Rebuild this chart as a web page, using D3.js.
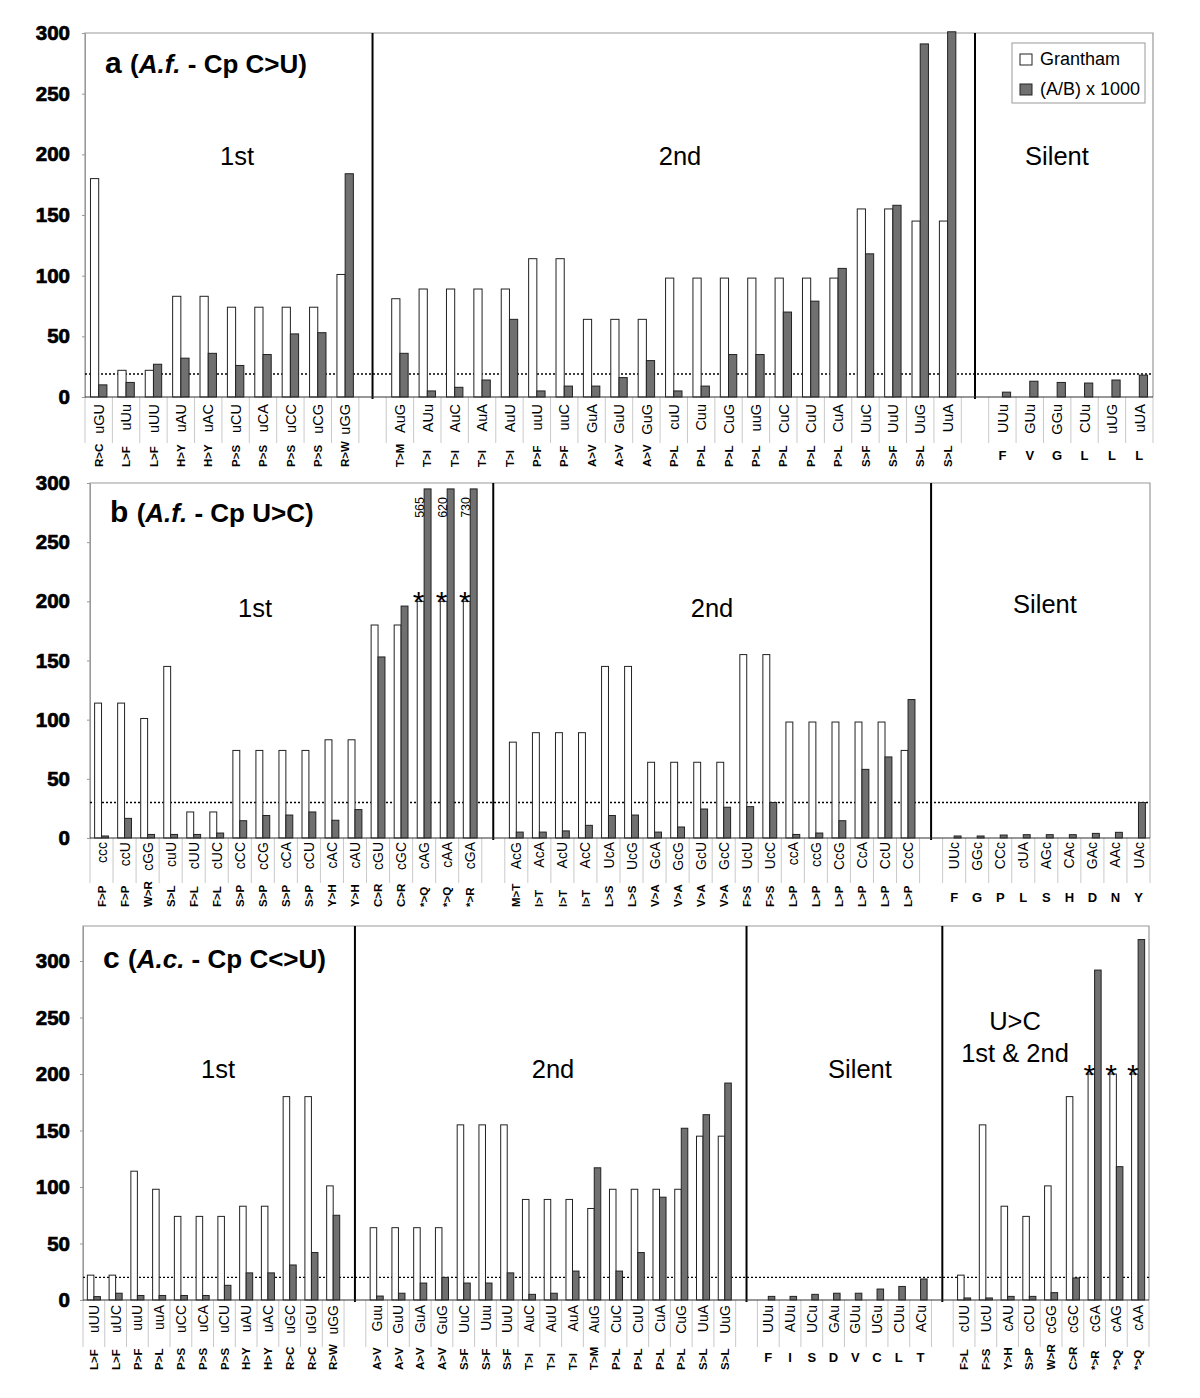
<!DOCTYPE html>
<html><head><meta charset="utf-8">
<script src="https://cdn.jsdelivr.net/npm/d3@7"></script>
<style>body{margin:0;background:#fff}text{font-family:"Liberation Sans",Arial,sans-serif}</style>
</head><body><svg id="c" width="1200" height="1398"></svg>
<script>
// ---------- Panel a data ----------
const aChange = ["R>C","L>F","L>F","H>Y","H>Y","P>S","P>S","P>S","P>S","R>W",null,
  "T>M","T>I","T>I","T>I","T>I","P>F","P>F","A>V","A>V","A>V","P>L","P>L","P>L","P>L","P>L","P>L","P>L","S>F","S>F","S>L","S>L",null,
  "F","V","G","L","L","L"];
const aCodon = ["uGU","uUu","uUU","uAU","uAC","uCU","uCA","uCC","uCG","uGG",null,
  "AuG","AUu","AuC","AuA","AuU","uuU","uuC","GuA","GuU","GuG","cuU","Cuu","CuG","uuG","CuC","CuU","CuA","UuC","UuU","UuG","UuA",null,
  "UUu","GUu","GGu","CUu","uUG","uUA"];
const aGrantham = [180,22,22,83,83,74,74,74,74,101,null,
  81,89,89,89,89,114,114,64,64,64,98,98,98,98,98,98,98,155,155,145,145,null,
  0,0,0,0,0,0];
const aRatio = [10,12,27,32,36,26,35,52,53,184,null,
  36,5,8,14,64,5,9,9,16,30,5,9,35,35,70,79,106,118,158,291,301,null,
  4,13,12,11.5,14,18];
const aSections = ["1st","2nd","Silent"];

// ---------- Panel b data ----------
const bChange = ["F>P","F>P","W>R","S>L","F>L","F>L","S>P","S>P","S>P","S>P","Y>H","Y>H","C>R","C>R","*>Q","*>Q","*>R",null,
  "M>T","I>T","I>T","I>T","L>S","L>S","V>A","V>A","V>A","V>A","F>S","F>S","L>P","L>P","L>P","L>P","L>P","L>P",null,
  "F","G","P","L","S","H","D","N","Y"];
const bCodon = ["ccc","ccU","cGG","cuU","cUU","cUC","cCC","cCG","cCA","cCU","cAC","cAU","cGU","cGC","cAG","cAA","cGA",null,
  "AcG","AcA","AcU","AcC","UcA","UcG","GcA","GcG","GcU","GcC","UcU","UcC","ccA","ccG","CcG","CcA","CcU","CcC",null,
  "UUc","GGc","CCc","cUA","AGc","CAc","GAc","AAc","UAc"];
const bGrantham = [114,114,101,145,22,22,74,74,74,74,83,83,180,180,200,200,200,null,
  81,89,89,89,145,145,64,64,64,64,155,155,98,98,98,98,98,74,null,
  0,0,0,0,0,0,0,0,0];
const bRatio = [1.7,16.6,3,3,3,4.2,14.6,19,19.4,22,15,24,153,196,565,620,730,null,
  5,5,6,10.7,19,19.4,5,9.3,24.5,26,26.5,30,3,4.2,14.6,58,68.5,117,null,
  1.7,1.7,2.5,2.8,2.8,2.8,3.9,4.8,30];
const bSections = ["1st","2nd","Silent"];

// ---------- Panel c data ----------
const cChange = ["L>F","L>F","P>F","P>L","P>S","P>S","P>S","H>Y","H>Y","R>C","R>C","R>W",null,
  "A>V","A>V","A>V","A>V","S>F","S>F","S>F","T>I","T>I","T>I","T>M","P>L","P>L","P>L","P>L","S>L","S>L",null,
  "F","I","S","D","V","C","L","T",null,
  "F>L","F>S","Y>H","S>P","W>R","C>R","*>R","*>Q","*>Q"];
const cCodon = ["uUU","uUC","uuU","uuA","uCC","uCA","uCU","uAU","uAC","uGC","uGU","uGG",null,
  "Guu","GuU","GuA","GuG","UuC","Uuu","UuU","AuC","AuU","AuA","AuG","CuC","CuU","CuA","CuG","UuA","UuG",null,
  "UUu","AUu","UCu","GAu","GUu","UGu","CUu","ACu",null,
  "cUU","UcU","cAU","cCU","cGG","cGC","cGA","cAG","cAA"];
const cGrantham = [22,22,114,98,74,74,74,83,83,180,180,101,null,
  64,64,64,64,155,155,155,89,89,89,81,98,98,98,98,145,145,null,
  0,0,0,0,0,0,0,0,null,
  22,155,83,74,101,180,200,200,200];
const cRatio = [3,6,4,4,4,4,13,24,24,31,42,75,null,
  3.5,6,15,20,15,15,24,5,6,25.6,117,25.6,42,91,152,164,192,null,
  3.2,3.2,5,6,6,9.7,12,18.6,null,
  1.8,1.8,3.2,3.2,6.5,19.5,292,118,319];
const cSections = ["1st","2nd","Silent","U>C|1st & 2nd"];

const yTicks = [0,50,100,150,200,250,300];
const thresholds = {a:19, b:30, c:20};

// ---------- layout ----------
const panels = [
  {change:aChange, codon:aCodon, gran:aGrantham, ratio:aRatio, sections:aSections,
   left:85, right:1153, top:33, base:397, ymax:300, cap:null, thr:thresholds.a,
   sepLen:46, codonTop:7, aaBottom:70, silentY:63, codonSize:14.5,
   title:["a","A.f.","Cp C>U)"], titleX:105, titleY:73,
   secPos:[[237,165],[680,165],[1057,165]], legend:true},
  {change:bChange, codon:bCodon, gran:bGrantham, ratio:bRatio, sections:bSections,
   left:90, right:1150, top:483, base:838, ymax:300, cap:295, thr:thresholds.b,
   sepLen:45, codonTop:4, aaBottom:69, silentY:64, codonSize:14,
   title:["b","A.f.","Cp U>C)"], titleX:110, titleY:522,
   secPos:[[255,617],[712,617],[1045,613]], legend:false},
  {change:cChange, codon:cCodon, gran:cGrantham, ratio:cRatio, sections:cSections,
   left:83, right:1149, top:926, base:1300, ymax:331, cap:null, thr:thresholds.c,
   sepLen:47, codonTop:5, aaBottom:70, silentY:62, codonSize:14,
   title:["c","A.c.","Cp C<>U)"], titleX:103, titleY:968,
   secPos:[[218,1078],[553,1078],[860,1078],[1015,1030]], legend:false}
];

const svg = d3.select("#c");
svg.append("rect").attr("width",1200).attr("height",1398).attr("fill","#fff");
const DARK = "#707070";

panels.forEach(p => {
  const g = svg.append("g");
  const n = p.change.length;
  const x = d3.scaleBand().domain(d3.range(n)).range([p.left, p.right]).padding(0);
  const y = d3.scaleLinear().domain([0, p.ymax]).range([p.base, p.top]);
  const bw = x.bandwidth() * 0.3;

  // frame
  g.append("path").attr("d", `M${p.left},${p.base}V${p.top}H${p.right}V${p.base}`)
    .attr("fill","none").attr("stroke","#999").attr("stroke-width",1.2);

  // slot separators in label area
  const bounds = d3.range(n + 1).map(i => i < n ? x(i) : p.right);
  g.selectAll(".sep").data(bounds).join("line")
    .attr("x1", d => d).attr("x2", d => d)
    .attr("y1", p.base).attr("y2", p.base + p.sepLen)
    .attr("stroke","#bbb").attr("stroke-width",0.8);

  // group dividers at gap slots
  const gaps = d3.range(n).filter(i => p.change[i] === null);
  g.selectAll(".div").data(gaps).join("line")
    .attr("x1", i => x(i) + x.bandwidth()/2).attr("x2", i => x(i) + x.bandwidth()/2)
    .attr("y1", p.top).attr("y2", p.base + 2)
    .attr("stroke","#000").attr("stroke-width",2);

  // y axis
  const ax = d3.axisLeft(y).tickValues(yTicks).tickSize(3)
    .tickPadding(p.left - 70 - 3).tickSizeOuter(0);
  const axg = g.append("g").attr("transform", `translate(${p.left},0)`).call(ax);
  axg.select(".domain").attr("stroke","#999");
  axg.selectAll(".tick line").attr("stroke","#999");
  axg.selectAll(".tick text").attr("font-size",20.5).attr("font-weight","bold")
    .attr("fill","#000").attr("stroke","#000").attr("stroke-width",0.7)
    .attr("font-family","'Liberation Sans',Arial,sans-serif");

  const idx = d3.range(n).filter(i => p.change[i] !== null);

  // threshold dotted line
  g.append("line").attr("x1", p.left).attr("x2", p.right)
    .attr("y1", y(p.thr)).attr("y2", y(p.thr))
    .attr("stroke","#000").attr("stroke-width",1.4).attr("stroke-dasharray","2,2");

  // Grantham (white) bars
  g.selectAll(".wb").data(idx.filter(i => p.gran[i] > 0)).join("rect")
    .attr("x", i => x(i) + x.bandwidth()/2 - bw)
    .attr("y", i => y(p.gran[i]))
    .attr("width", bw).attr("height", i => y(0) - y(p.gran[i]))
    .attr("fill","#fff").attr("stroke","#222").attr("stroke-width",1);

  // ratio (dark) bars
  const shown = v => (p.cap !== null ? Math.min(v, p.cap) : v);
  g.selectAll(".db").data(idx).join("rect")
    .attr("x", i => x(i) + x.bandwidth()/2)
    .attr("y", i => y(shown(p.ratio[i])))
    .attr("width", bw).attr("height", i => y(0) - y(shown(p.ratio[i])))
    .attr("fill", DARK).attr("stroke","#222").attr("stroke-width",1);

  // baseline
  g.append("line").attr("x1", p.left).attr("x2", p.right)
    .attr("y1", p.base).attr("y2", p.base).attr("stroke","#333").attr("stroke-width",1.2);

  // clipped values labels
  if (p.cap !== null) {
    g.selectAll(".cl").data(idx.filter(i => p.ratio[i] > p.cap)).join("text")
      .attr("transform", i => `translate(${x(i) + x.bandwidth()/2 - bw/2 - 1},${p.top + 14}) rotate(-90)`)
      .attr("text-anchor","end").attr("dy","0.35em").attr("font-size",12.5)
      .text(i => p.ratio[i]);
  }
  // asterisks on stop-codon Grantham bars
  g.selectAll(".ast").data(idx.filter(i => p.gran[i] === 200)).join("text")
    .attr("x", i => x(i) + x.bandwidth()/2 - bw/2 - 2)
    .attr("y", i => y(200) + 11)
    .attr("text-anchor","middle").attr("font-size",30).text("*");

  // category labels
  idx.forEach(i => {
    const cx = x(i) + x.bandwidth()/2;
    const silent = p.change[i].length === 1;
    g.append("text")
      .attr("transform", `translate(${cx},${p.base + p.codonTop}) rotate(-90)`)
      .attr("text-anchor","end").attr("dy","0.36em")
      .attr("font-size", p.codonSize).text(p.codon[i]);
    if (silent) {
      g.append("text").attr("x", cx).attr("y", p.base + p.silentY)
        .attr("text-anchor","middle").attr("font-size",13).attr("font-weight","bold")
        .text(p.change[i]);
    } else {
      g.append("text")
        .attr("transform", `translate(${cx},${p.base + p.aaBottom}) rotate(-90)`)
        .attr("text-anchor","start").attr("dy","0.36em")
        .attr("font-size",11.5).attr("font-weight","bold").text(p.change[i]);
    }
  });

  // section labels
  p.sections.forEach((s, k) => {
    const lines = s.split("|");
    lines.forEach((ln, j) => {
      g.append("text").attr("x", p.secPos[k][0]).attr("y", p.secPos[k][1] + j*32)
        .attr("text-anchor","middle").attr("font-size",25.5).text(ln);
    });
  });

  // title
  const t = g.append("text").attr("x", p.titleX).attr("y", p.titleY)
    .attr("font-size",26).attr("font-weight","bold");
  t.append("tspan").attr("font-size",30).text(p.title[0] + " ");
  t.append("tspan").text("(");
  t.append("tspan").attr("font-style","italic").text(p.title[1]);
  t.append("tspan").text(" - " + p.title[2]);

  // legend
  if (p.legend) {
    const lg = g.append("g");
    lg.append("rect").attr("x",1012).attr("y",43).attr("width",133).attr("height",60)
      .attr("fill","#fff").attr("stroke","#999");
    const items = [["Grantham","#fff",54],["(A/B) x 1000",DARK,84]];
    items.forEach(([lab, col, yy]) => {
      lg.append("rect").attr("x",1020).attr("y",yy).attr("width",12).attr("height",11)
        .attr("fill",col).attr("stroke","#222");
      lg.append("text").attr("x",1040).attr("y",yy+11).attr("font-size",18).text(lab);
    });
  }
});
</script>
</body></html>
